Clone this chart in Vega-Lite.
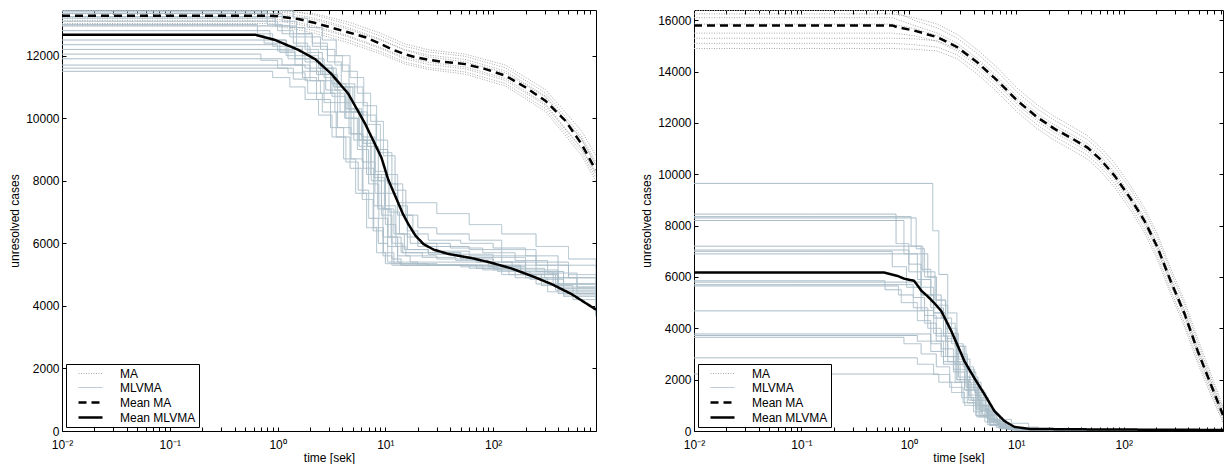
{
"$schema": "https://vega.github.io/schema/vega-lite/v6.json",
"background": "white",
"padding": {"left": 8, "top": 9, "right": 0, "bottom": 0},
"config": {
  "view": {"stroke": "black", "strokeWidth": 1},
  "font": "Liberation Sans",
  "axis": {"domain": false, "grid": false, "labelFont": "Liberation Sans", "labelFontSize": 12, "labelColor": "black", "titleFont": "Liberation Sans", "titleFontSize": 12, "titleFontWeight": "normal", "titleColor": "black", "tickColor": "black", "tickSize": -4, "tickWidth": 1},
  "legend": {"orient": "bottom-left", "offset": 4, "padding": 3, "strokeColor": "black", "fillColor": "white", "symbolType": "M-2,0L2,0", "symbolSize": 144, "symbolOffset": 14, "labelFont": "Liberation Sans", "labelFontSize": 12, "labelColor": "black", "rowPadding": 1, "labelOffset": 22}
},
"data": {"values": [
{"p":"L","s":"Mean MLVMA","r":0,"t":0.01,"v":12670},{"p":"L","s":"Mean MLVMA","r":0,"t":0.62,"v":12670},{"p":"L","s":"Mean MLVMA","r":0,"t":0.95,"v":12500},{"p":"L","s":"Mean MLVMA","r":0,"t":1.55,"v":12190},{"p":"L","s":"Mean MLVMA","r":0,"t":2.23,"v":11890},{"p":"L","s":"Mean MLVMA","r":0,"t":3.15,"v":11420},{"p":"L","s":"Mean MLVMA","r":0,"t":4.53,"v":10780},{"p":"L","s":"Mean MLVMA","r":0,"t":6.5,"v":9820},{"p":"L","s":"Mean MLVMA","r":0,"t":9.2,"v":8740},{"p":"L","s":"Mean MLVMA","r":0,"t":10.6,"v":8050},{"p":"L","s":"Mean MLVMA","r":0,"t":12.4,"v":7500},{"p":"L","s":"Mean MLVMA","r":0,"t":14.5,"v":6950},{"p":"L","s":"Mean MLVMA","r":0,"t":16.3,"v":6620},{"p":"L","s":"Mean MLVMA","r":0,"t":19,"v":6250},{"p":"L","s":"Mean MLVMA","r":0,"t":22.5,"v":5980},{"p":"L","s":"Mean MLVMA","r":0,"t":28,"v":5800},{"p":"L","s":"Mean MLVMA","r":0,"t":38.4,"v":5660},{"p":"L","s":"Mean MLVMA","r":0,"t":62.8,"v":5530},{"p":"L","s":"Mean MLVMA","r":0,"t":96,"v":5380},{"p":"L","s":"Mean MLVMA","r":0,"t":147,"v":5200},{"p":"L","s":"Mean MLVMA","r":0,"t":226,"v":4960},{"p":"L","s":"Mean MLVMA","r":0,"t":347,"v":4700},{"p":"L","s":"Mean MLVMA","r":0,"t":532,"v":4380},{"p":"L","s":"Mean MLVMA","r":0,"t":900,"v":3880},
{"p":"L","s":"Mean MA","r":0,"t":0.01,"v":13280},{"p":"L","s":"Mean MA","r":0,"t":0.8,"v":13280},{"p":"L","s":"Mean MA","r":0,"t":1.0,"v":13260},{"p":"L","s":"Mean MA","r":0,"t":1.2,"v":13220},{"p":"L","s":"Mean MA","r":0,"t":1.55,"v":13170},{"p":"L","s":"Mean MA","r":0,"t":2.2,"v":13050},{"p":"L","s":"Mean MA","r":0,"t":3.15,"v":12900},{"p":"L","s":"Mean MA","r":0,"t":4.5,"v":12750},{"p":"L","s":"Mean MA","r":0,"t":6.5,"v":12590},{"p":"L","s":"Mean MA","r":0,"t":9,"v":12380},{"p":"L","s":"Mean MA","r":0,"t":11.4,"v":12210},{"p":"L","s":"Mean MA","r":0,"t":15,"v":12050},{"p":"L","s":"Mean MA","r":0,"t":19,"v":11950},{"p":"L","s":"Mean MA","r":0,"t":25,"v":11870},{"p":"L","s":"Mean MA","r":0,"t":33,"v":11810},{"p":"L","s":"Mean MA","r":0,"t":55,"v":11730},{"p":"L","s":"Mean MA","r":0,"t":85,"v":11570},{"p":"L","s":"Mean MA","r":0,"t":130,"v":11360},{"p":"L","s":"Mean MA","r":0,"t":199,"v":10990},{"p":"L","s":"Mean MA","r":0,"t":305,"v":10560},{"p":"L","s":"Mean MA","r":0,"t":468,"v":9920},{"p":"L","s":"Mean MA","r":0,"t":659,"v":9180},{"p":"L","s":"Mean MA","r":0,"t":852,"v":8480},{"p":"L","s":"Mean MA","r":0,"t":900,"v":8350},
{"p":"L","s":"MA","r":1,"t":0.01,"v":13430},{"p":"L","s":"MA","r":1,"t":0.8,"v":13430},{"p":"L","s":"MA","r":1,"t":1.2,"v":13370},{"p":"L","s":"MA","r":1,"t":2.2,"v":13200},{"p":"L","s":"MA","r":1,"t":4.5,"v":12900},{"p":"L","s":"MA","r":1,"t":9,"v":12530},{"p":"L","s":"MA","r":1,"t":15,"v":12200},{"p":"L","s":"MA","r":1,"t":25,"v":12020},{"p":"L","s":"MA","r":1,"t":55,"v":11880},{"p":"L","s":"MA","r":1,"t":130,"v":11510},{"p":"L","s":"MA","r":1,"t":305,"v":10710},{"p":"L","s":"MA","r":1,"t":659,"v":9330},{"p":"L","s":"MA","r":1,"t":900,"v":8500},
{"p":"L","s":"MA","r":2,"t":0.01,"v":13130},{"p":"L","s":"MA","r":2,"t":0.8,"v":13130},{"p":"L","s":"MA","r":2,"t":1.2,"v":13070},{"p":"L","s":"MA","r":2,"t":2.2,"v":12900},{"p":"L","s":"MA","r":2,"t":4.5,"v":12600},{"p":"L","s":"MA","r":2,"t":9,"v":12230},{"p":"L","s":"MA","r":2,"t":15,"v":11900},{"p":"L","s":"MA","r":2,"t":25,"v":11720},{"p":"L","s":"MA","r":2,"t":55,"v":11580},{"p":"L","s":"MA","r":2,"t":130,"v":11210},{"p":"L","s":"MA","r":2,"t":305,"v":10410},{"p":"L","s":"MA","r":2,"t":659,"v":9030},{"p":"L","s":"MA","r":2,"t":900,"v":8200},
{"p":"L","s":"MA","r":3,"t":0.01,"v":13450},{"p":"L","s":"MA","r":3,"t":0.8,"v":13450},{"p":"L","s":"MA","r":3,"t":1.2,"v":13440},{"p":"L","s":"MA","r":3,"t":2.2,"v":13300},{"p":"L","s":"MA","r":3,"t":4.5,"v":13000},{"p":"L","s":"MA","r":3,"t":9,"v":12630},{"p":"L","s":"MA","r":3,"t":15,"v":12300},{"p":"L","s":"MA","r":3,"t":25,"v":12120},{"p":"L","s":"MA","r":3,"t":55,"v":11980},{"p":"L","s":"MA","r":3,"t":130,"v":11610},{"p":"L","s":"MA","r":3,"t":305,"v":10810},{"p":"L","s":"MA","r":3,"t":659,"v":9430},{"p":"L","s":"MA","r":3,"t":900,"v":8600},
{"p":"L","s":"MA","r":4,"t":0.01,"v":13030},{"p":"L","s":"MA","r":4,"t":0.8,"v":13030},{"p":"L","s":"MA","r":4,"t":1.2,"v":12970},{"p":"L","s":"MA","r":4,"t":2.2,"v":12800},{"p":"L","s":"MA","r":4,"t":4.5,"v":12500},{"p":"L","s":"MA","r":4,"t":9,"v":12130},{"p":"L","s":"MA","r":4,"t":15,"v":11800},{"p":"L","s":"MA","r":4,"t":25,"v":11620},{"p":"L","s":"MA","r":4,"t":55,"v":11480},{"p":"L","s":"MA","r":4,"t":130,"v":11110},{"p":"L","s":"MA","r":4,"t":305,"v":10310},{"p":"L","s":"MA","r":4,"t":659,"v":8930},{"p":"L","s":"MA","r":4,"t":900,"v":8100},
{"p":"L","s":"MA","r":5,"t":0.01,"v":13340},{"p":"L","s":"MA","r":5,"t":0.8,"v":13340},{"p":"L","s":"MA","r":5,"t":1.2,"v":13300},{"p":"L","s":"MA","r":5,"t":2.2,"v":13150},{"p":"L","s":"MA","r":5,"t":4.5,"v":12850},{"p":"L","s":"MA","r":5,"t":9,"v":12500},{"p":"L","s":"MA","r":5,"t":15,"v":12180},{"p":"L","s":"MA","r":5,"t":25,"v":11960},{"p":"L","s":"MA","r":5,"t":55,"v":11800},{"p":"L","s":"MA","r":5,"t":130,"v":11450},{"p":"L","s":"MA","r":5,"t":305,"v":10680},{"p":"L","s":"MA","r":5,"t":659,"v":9350},{"p":"L","s":"MA","r":5,"t":900,"v":8500},
{"p":"L","s":"MA","r":6,"t":0.01,"v":13200},{"p":"L","s":"MA","r":6,"t":0.8,"v":13200},{"p":"L","s":"MA","r":6,"t":1.2,"v":13130},{"p":"L","s":"MA","r":6,"t":2.2,"v":12950},{"p":"L","s":"MA","r":6,"t":4.5,"v":12640},{"p":"L","s":"MA","r":6,"t":9,"v":12260},{"p":"L","s":"MA","r":6,"t":15,"v":11950},{"p":"L","s":"MA","r":6,"t":25,"v":11790},{"p":"L","s":"MA","r":6,"t":55,"v":11640},{"p":"L","s":"MA","r":6,"t":130,"v":11270},{"p":"L","s":"MA","r":6,"t":305,"v":10460},{"p":"L","s":"MA","r":6,"t":659,"v":9050},{"p":"L","s":"MA","r":6,"t":900,"v":8250},
{"p":"L","s":"MA","r":7,"t":0.01,"v":13450},{"p":"L","s":"MA","r":7,"t":0.8,"v":13450},{"p":"L","s":"MA","r":7,"t":1.2,"v":13420},{"p":"L","s":"MA","r":7,"t":2.2,"v":13340},{"p":"L","s":"MA","r":7,"t":4.5,"v":13080},{"p":"L","s":"MA","r":7,"t":9,"v":12720},{"p":"L","s":"MA","r":7,"t":15,"v":12380},{"p":"L","s":"MA","r":7,"t":25,"v":12190},{"p":"L","s":"MA","r":7,"t":55,"v":12050},{"p":"L","s":"MA","r":7,"t":130,"v":11700},{"p":"L","s":"MA","r":7,"t":305,"v":10920},{"p":"L","s":"MA","r":7,"t":659,"v":9600},{"p":"L","s":"MA","r":7,"t":900,"v":8800},
{"p":"L","s":"MA","r":8,"t":0.01,"v":12960},{"p":"L","s":"MA","r":8,"t":0.8,"v":12960},{"p":"L","s":"MA","r":8,"t":1.2,"v":12900},{"p":"L","s":"MA","r":8,"t":2.2,"v":12720},{"p":"L","s":"MA","r":8,"t":4.5,"v":12420},{"p":"L","s":"MA","r":8,"t":9,"v":12060},{"p":"L","s":"MA","r":8,"t":15,"v":11740},{"p":"L","s":"MA","r":8,"t":25,"v":11560},{"p":"L","s":"MA","r":8,"t":55,"v":11410},{"p":"L","s":"MA","r":8,"t":130,"v":11030},{"p":"L","s":"MA","r":8,"t":305,"v":10220},{"p":"L","s":"MA","r":8,"t":659,"v":8820},{"p":"L","s":"MA","r":8,"t":900,"v":7980},
{"p":"L","s":"MLVMA","r":1,"t":0.01,"v":13400},{"p":"L","s":"MLVMA","r":1,"t":0.8,"v":13000},{"p":"L","s":"MLVMA","r":1,"t":1.1,"v":12700},{"p":"L","s":"MLVMA","r":1,"t":1.5,"v":12300},{"p":"L","s":"MLVMA","r":1,"t":2,"v":11900},{"p":"L","s":"MLVMA","r":1,"t":2.7,"v":11300},{"p":"L","s":"MLVMA","r":1,"t":3.6,"v":10500},{"p":"L","s":"MLVMA","r":1,"t":4.8,"v":9500},{"p":"L","s":"MLVMA","r":1,"t":6.2,"v":8400},{"p":"L","s":"MLVMA","r":1,"t":7.8,"v":7200},{"p":"L","s":"MLVMA","r":1,"t":9.5,"v":6200},{"p":"L","s":"MLVMA","r":1,"t":11.5,"v":5500},{"p":"L","s":"MLVMA","r":1,"t":14,"v":5300},{"p":"L","s":"MLVMA","r":1,"t":60,"v":5200},{"p":"L","s":"MLVMA","r":1,"t":120,"v":5000},{"p":"L","s":"MLVMA","r":1,"t":250,"v":4700},{"p":"L","s":"MLVMA","r":1,"t":450,"v":4300},{"p":"L","s":"MLVMA","r":1,"t":900,"v":3700},
{"p":"L","s":"MLVMA","r":2,"t":0.01,"v":13250},{"p":"L","s":"MLVMA","r":2,"t":1.3,"v":12900},{"p":"L","s":"MLVMA","r":2,"t":1.8,"v":12600},{"p":"L","s":"MLVMA","r":2,"t":2.5,"v":12200},{"p":"L","s":"MLVMA","r":2,"t":3.4,"v":11700},{"p":"L","s":"MLVMA","r":2,"t":4.6,"v":11000},{"p":"L","s":"MLVMA","r":2,"t":6.2,"v":10100},{"p":"L","s":"MLVMA","r":2,"t":8.2,"v":9000},{"p":"L","s":"MLVMA","r":2,"t":10.5,"v":7900},{"p":"L","s":"MLVMA","r":2,"t":13,"v":6900},{"p":"L","s":"MLVMA","r":2,"t":16,"v":6200},{"p":"L","s":"MLVMA","r":2,"t":20,"v":5900},{"p":"L","s":"MLVMA","r":2,"t":30,"v":5750},{"p":"L","s":"MLVMA","r":2,"t":60,"v":5600},{"p":"L","s":"MLVMA","r":2,"t":120,"v":5400},{"p":"L","s":"MLVMA","r":2,"t":250,"v":5100},{"p":"L","s":"MLVMA","r":2,"t":450,"v":4700},{"p":"L","s":"MLVMA","r":2,"t":900,"v":4100},
{"p":"L","s":"MLVMA","r":3,"t":0.01,"v":13100},{"p":"L","s":"MLVMA","r":3,"t":1,"v":12800},{"p":"L","s":"MLVMA","r":3,"t":1.4,"v":12400},{"p":"L","s":"MLVMA","r":3,"t":1.9,"v":12100},{"p":"L","s":"MLVMA","r":3,"t":2.6,"v":11600},{"p":"L","s":"MLVMA","r":3,"t":3.5,"v":11000},{"p":"L","s":"MLVMA","r":3,"t":4.7,"v":10200},{"p":"L","s":"MLVMA","r":3,"t":6.2,"v":9200},{"p":"L","s":"MLVMA","r":3,"t":7.9,"v":8100},{"p":"L","s":"MLVMA","r":3,"t":9.8,"v":7100},{"p":"L","s":"MLVMA","r":3,"t":12,"v":6300},{"p":"L","s":"MLVMA","r":3,"t":15,"v":5800},{"p":"L","s":"MLVMA","r":3,"t":25,"v":5650},{"p":"L","s":"MLVMA","r":3,"t":50,"v":5500},{"p":"L","s":"MLVMA","r":3,"t":100,"v":5300},{"p":"L","s":"MLVMA","r":3,"t":200,"v":5050},{"p":"L","s":"MLVMA","r":3,"t":400,"v":4600},{"p":"L","s":"MLVMA","r":3,"t":900,"v":3900},
{"p":"L","s":"MLVMA","r":4,"t":0.01,"v":12950},{"p":"L","s":"MLVMA","r":4,"t":1.5,"v":12700},{"p":"L","s":"MLVMA","r":4,"t":2.1,"v":12400},{"p":"L","s":"MLVMA","r":4,"t":2.9,"v":12000},{"p":"L","s":"MLVMA","r":4,"t":4,"v":11500},{"p":"L","s":"MLVMA","r":4,"t":5.5,"v":10800},{"p":"L","s":"MLVMA","r":4,"t":7.3,"v":9900},{"p":"L","s":"MLVMA","r":4,"t":9.6,"v":8800},{"p":"L","s":"MLVMA","r":4,"t":12.3,"v":7700},{"p":"L","s":"MLVMA","r":4,"t":15.5,"v":6900},{"p":"L","s":"MLVMA","r":4,"t":20,"v":6500},{"p":"L","s":"MLVMA","r":4,"t":30,"v":6300},{"p":"L","s":"MLVMA","r":4,"t":60,"v":6100},{"p":"L","s":"MLVMA","r":4,"t":120,"v":5800},{"p":"L","s":"MLVMA","r":4,"t":250,"v":5400},{"p":"L","s":"MLVMA","r":4,"t":500,"v":5000},{"p":"L","s":"MLVMA","r":4,"t":900,"v":4600},
{"p":"L","s":"MLVMA","r":5,"t":0.01,"v":12800},{"p":"L","s":"MLVMA","r":5,"t":0.85,"v":12500},{"p":"L","s":"MLVMA","r":5,"t":1.2,"v":12200},{"p":"L","s":"MLVMA","r":5,"t":1.7,"v":11900},{"p":"L","s":"MLVMA","r":5,"t":2.3,"v":11400},{"p":"L","s":"MLVMA","r":5,"t":3.1,"v":10800},{"p":"L","s":"MLVMA","r":5,"t":4.2,"v":10000},{"p":"L","s":"MLVMA","r":5,"t":5.5,"v":9000},{"p":"L","s":"MLVMA","r":5,"t":7,"v":7900},{"p":"L","s":"MLVMA","r":5,"t":8.7,"v":6800},{"p":"L","s":"MLVMA","r":5,"t":10.5,"v":5900},{"p":"L","s":"MLVMA","r":5,"t":13,"v":5400},{"p":"L","s":"MLVMA","r":5,"t":20,"v":5300},{"p":"L","s":"MLVMA","r":5,"t":90,"v":5250},{"p":"L","s":"MLVMA","r":5,"t":180,"v":5000},{"p":"L","s":"MLVMA","r":5,"t":380,"v":4500},{"p":"L","s":"MLVMA","r":5,"t":900,"v":3800},
{"p":"L","s":"MLVMA","r":6,"t":0.01,"v":12500},{"p":"L","s":"MLVMA","r":6,"t":1.2,"v":12300},{"p":"L","s":"MLVMA","r":6,"t":1.7,"v":12000},{"p":"L","s":"MLVMA","r":6,"t":2.4,"v":11600},{"p":"L","s":"MLVMA","r":6,"t":3.3,"v":11000},{"p":"L","s":"MLVMA","r":6,"t":4.5,"v":10300},{"p":"L","s":"MLVMA","r":6,"t":6,"v":9400},{"p":"L","s":"MLVMA","r":6,"t":8,"v":8300},{"p":"L","s":"MLVMA","r":6,"t":10,"v":7600},{"p":"L","s":"MLVMA","r":6,"t":13,"v":7300},{"p":"L","s":"MLVMA","r":6,"t":30,"v":6950},{"p":"L","s":"MLVMA","r":6,"t":60,"v":6600},{"p":"L","s":"MLVMA","r":6,"t":120,"v":6300},{"p":"L","s":"MLVMA","r":6,"t":250,"v":5900},{"p":"L","s":"MLVMA","r":6,"t":500,"v":5500},{"p":"L","s":"MLVMA","r":6,"t":900,"v":5200},
{"p":"L","s":"MLVMA","r":7,"t":0.01,"v":12200},{"p":"L","s":"MLVMA","r":7,"t":1.2,"v":12000},{"p":"L","s":"MLVMA","r":7,"t":1.8,"v":11800},{"p":"L","s":"MLVMA","r":7,"t":2.5,"v":11400},{"p":"L","s":"MLVMA","r":7,"t":3.4,"v":10900},{"p":"L","s":"MLVMA","r":7,"t":4.6,"v":10200},{"p":"L","s":"MLVMA","r":7,"t":6.1,"v":9300},{"p":"L","s":"MLVMA","r":7,"t":8,"v":8200},{"p":"L","s":"MLVMA","r":7,"t":10,"v":7200},{"p":"L","s":"MLVMA","r":7,"t":12.5,"v":6300},{"p":"L","s":"MLVMA","r":7,"t":16,"v":5800},{"p":"L","s":"MLVMA","r":7,"t":25,"v":5700},{"p":"L","s":"MLVMA","r":7,"t":50,"v":5550},{"p":"L","s":"MLVMA","r":7,"t":100,"v":5400},{"p":"L","s":"MLVMA","r":7,"t":200,"v":5150},{"p":"L","s":"MLVMA","r":7,"t":400,"v":4700},{"p":"L","s":"MLVMA","r":7,"t":900,"v":4000},
{"p":"L","s":"MLVMA","r":8,"t":0.01,"v":11900},{"p":"L","s":"MLVMA","r":8,"t":1.1,"v":11700},{"p":"L","s":"MLVMA","r":8,"t":1.7,"v":11500},{"p":"L","s":"MLVMA","r":8,"t":2.4,"v":11200},{"p":"L","s":"MLVMA","r":8,"t":3.2,"v":10700},{"p":"L","s":"MLVMA","r":8,"t":4.3,"v":10000},{"p":"L","s":"MLVMA","r":8,"t":5.7,"v":9100},{"p":"L","s":"MLVMA","r":8,"t":7.4,"v":8000},{"p":"L","s":"MLVMA","r":8,"t":9.2,"v":6900},{"p":"L","s":"MLVMA","r":8,"t":11.5,"v":6000},{"p":"L","s":"MLVMA","r":8,"t":14.5,"v":5700},{"p":"L","s":"MLVMA","r":8,"t":50,"v":5650},{"p":"L","s":"MLVMA","r":8,"t":100,"v":5550},{"p":"L","s":"MLVMA","r":8,"t":200,"v":5300},{"p":"L","s":"MLVMA","r":8,"t":400,"v":4900},{"p":"L","s":"MLVMA","r":8,"t":900,"v":4300},
{"p":"L","s":"MLVMA","r":9,"t":0.01,"v":11700},{"p":"L","s":"MLVMA","r":9,"t":1.8,"v":11600},{"p":"L","s":"MLVMA","r":9,"t":2.6,"v":11400},{"p":"L","s":"MLVMA","r":9,"t":3.6,"v":11000},{"p":"L","s":"MLVMA","r":9,"t":5,"v":10500},{"p":"L","s":"MLVMA","r":9,"t":6.8,"v":9800},{"p":"L","s":"MLVMA","r":9,"t":9,"v":8900},{"p":"L","s":"MLVMA","r":9,"t":11.5,"v":7900},{"p":"L","s":"MLVMA","r":9,"t":14.5,"v":6900},{"p":"L","s":"MLVMA","r":9,"t":18,"v":6300},{"p":"L","s":"MLVMA","r":9,"t":25,"v":6100},{"p":"L","s":"MLVMA","r":9,"t":50,"v":6000},{"p":"L","s":"MLVMA","r":9,"t":100,"v":5850},{"p":"L","s":"MLVMA","r":9,"t":200,"v":5600},{"p":"L","s":"MLVMA","r":9,"t":400,"v":5300},{"p":"L","s":"MLVMA","r":9,"t":900,"v":4900},
{"p":"L","s":"MLVMA","r":10,"t":0.01,"v":11500},{"p":"L","s":"MLVMA","r":10,"t":0.9,"v":11300},{"p":"L","s":"MLVMA","r":10,"t":1.3,"v":11000},{"p":"L","s":"MLVMA","r":10,"t":1.8,"v":10600},{"p":"L","s":"MLVMA","r":10,"t":2.4,"v":10100},{"p":"L","s":"MLVMA","r":10,"t":3.2,"v":9400},{"p":"L","s":"MLVMA","r":10,"t":4.3,"v":8600},{"p":"L","s":"MLVMA","r":10,"t":5.6,"v":7700},{"p":"L","s":"MLVMA","r":10,"t":7,"v":6800},{"p":"L","s":"MLVMA","r":10,"t":8.6,"v":6000},{"p":"L","s":"MLVMA","r":10,"t":10.5,"v":5400},{"p":"L","s":"MLVMA","r":10,"t":14,"v":5300},{"p":"L","s":"MLVMA","r":10,"t":80,"v":5150},{"p":"L","s":"MLVMA","r":10,"t":160,"v":4900},{"p":"L","s":"MLVMA","r":10,"t":320,"v":4450},{"p":"L","s":"MLVMA","r":10,"t":900,"v":3650},
{"p":"L","s":"MLVMA","r":11,"t":0.01,"v":13350},{"p":"L","s":"MLVMA","r":11,"t":1.1,"v":13100},{"p":"L","s":"MLVMA","r":11,"t":1.5,"v":12700},{"p":"L","s":"MLVMA","r":11,"t":2.1,"v":12300},{"p":"L","s":"MLVMA","r":11,"t":2.9,"v":11800},{"p":"L","s":"MLVMA","r":11,"t":3.9,"v":11100},{"p":"L","s":"MLVMA","r":11,"t":5.2,"v":10200},{"p":"L","s":"MLVMA","r":11,"t":6.8,"v":9100},{"p":"L","s":"MLVMA","r":11,"t":8.6,"v":8000},{"p":"L","s":"MLVMA","r":11,"t":10.8,"v":7000},{"p":"L","s":"MLVMA","r":11,"t":13.5,"v":6300},{"p":"L","s":"MLVMA","r":11,"t":17,"v":6000},{"p":"L","s":"MLVMA","r":11,"t":30,"v":5900},{"p":"L","s":"MLVMA","r":11,"t":60,"v":5800},{"p":"L","s":"MLVMA","r":11,"t":120,"v":5600},{"p":"L","s":"MLVMA","r":11,"t":250,"v":5300},{"p":"L","s":"MLVMA","r":11,"t":500,"v":4900},{"p":"L","s":"MLVMA","r":11,"t":900,"v":4500},
{"p":"L","s":"MLVMA","r":12,"t":0.01,"v":12650},{"p":"L","s":"MLVMA","r":12,"t":0.75,"v":12400},{"p":"L","s":"MLVMA","r":12,"t":1.05,"v":12100},{"p":"L","s":"MLVMA","r":12,"t":1.45,"v":11700},{"p":"L","s":"MLVMA","r":12,"t":2,"v":11200},{"p":"L","s":"MLVMA","r":12,"t":2.7,"v":10500},{"p":"L","s":"MLVMA","r":12,"t":3.6,"v":9700},{"p":"L","s":"MLVMA","r":12,"t":4.8,"v":8700},{"p":"L","s":"MLVMA","r":12,"t":6.2,"v":7600},{"p":"L","s":"MLVMA","r":12,"t":7.8,"v":6500},{"p":"L","s":"MLVMA","r":12,"t":9.6,"v":5700},{"p":"L","s":"MLVMA","r":12,"t":12,"v":5350},{"p":"L","s":"MLVMA","r":12,"t":25,"v":5300},{"p":"L","s":"MLVMA","r":12,"t":100,"v":5150},{"p":"L","s":"MLVMA","r":12,"t":200,"v":4900},{"p":"L","s":"MLVMA","r":12,"t":400,"v":4400},{"p":"L","s":"MLVMA","r":12,"t":900,"v":3750},
{"p":"L","s":"MLVMA","r":13,"t":0.01,"v":13450},{"p":"L","s":"MLVMA","r":13,"t":1.4,"v":13200},{"p":"L","s":"MLVMA","r":13,"t":1.9,"v":12900},{"p":"L","s":"MLVMA","r":13,"t":2.6,"v":12500},{"p":"L","s":"MLVMA","r":13,"t":3.5,"v":12000},{"p":"L","s":"MLVMA","r":13,"t":4.7,"v":11300},{"p":"L","s":"MLVMA","r":13,"t":6.3,"v":10400},{"p":"L","s":"MLVMA","r":13,"t":8.3,"v":9300},{"p":"L","s":"MLVMA","r":13,"t":10.5,"v":8200},{"p":"L","s":"MLVMA","r":13,"t":13,"v":7200},{"p":"L","s":"MLVMA","r":13,"t":16,"v":6400},{"p":"L","s":"MLVMA","r":13,"t":20,"v":6000},{"p":"L","s":"MLVMA","r":13,"t":40,"v":5850},{"p":"L","s":"MLVMA","r":13,"t":80,"v":5700},{"p":"L","s":"MLVMA","r":13,"t":160,"v":5450},{"p":"L","s":"MLVMA","r":13,"t":320,"v":5050},{"p":"L","s":"MLVMA","r":13,"t":600,"v":4600},{"p":"L","s":"MLVMA","r":13,"t":900,"v":4300},
{"p":"L","s":"MLVMA","r":14,"t":0.01,"v":13000},{"p":"L","s":"MLVMA","r":14,"t":0.65,"v":12700},{"p":"L","s":"MLVMA","r":14,"t":0.9,"v":12300},{"p":"L","s":"MLVMA","r":14,"t":1.25,"v":11900},{"p":"L","s":"MLVMA","r":14,"t":1.7,"v":11300},{"p":"L","s":"MLVMA","r":14,"t":2.3,"v":10600},{"p":"L","s":"MLVMA","r":14,"t":3.1,"v":9700},{"p":"L","s":"MLVMA","r":14,"t":4.1,"v":8700},{"p":"L","s":"MLVMA","r":14,"t":5.3,"v":7600},{"p":"L","s":"MLVMA","r":14,"t":6.7,"v":6500},{"p":"L","s":"MLVMA","r":14,"t":8.3,"v":5700},{"p":"L","s":"MLVMA","r":14,"t":10,"v":5350},{"p":"L","s":"MLVMA","r":14,"t":30,"v":5300},{"p":"L","s":"MLVMA","r":14,"t":70,"v":5200},{"p":"L","s":"MLVMA","r":14,"t":140,"v":5000},{"p":"L","s":"MLVMA","r":14,"t":280,"v":4650},{"p":"L","s":"MLVMA","r":14,"t":550,"v":4200},{"p":"L","s":"MLVMA","r":14,"t":900,"v":3800},
{"p":"L","s":"MLVMA","r":15,"t":0.01,"v":12350},{"p":"L","s":"MLVMA","r":15,"t":1,"v":12150},{"p":"L","s":"MLVMA","r":15,"t":1.45,"v":11900},{"p":"L","s":"MLVMA","r":15,"t":2,"v":11500},{"p":"L","s":"MLVMA","r":15,"t":2.8,"v":10900},{"p":"L","s":"MLVMA","r":15,"t":3.8,"v":10200},{"p":"L","s":"MLVMA","r":15,"t":5.1,"v":9300},{"p":"L","s":"MLVMA","r":15,"t":6.7,"v":8200},{"p":"L","s":"MLVMA","r":15,"t":8.5,"v":7100},{"p":"L","s":"MLVMA","r":15,"t":10.6,"v":6200},{"p":"L","s":"MLVMA","r":15,"t":13,"v":5600},{"p":"L","s":"MLVMA","r":15,"t":17,"v":5400},{"p":"L","s":"MLVMA","r":15,"t":100,"v":5250},{"p":"L","s":"MLVMA","r":15,"t":200,"v":5000},{"p":"L","s":"MLVMA","r":15,"t":400,"v":4550},{"p":"L","s":"MLVMA","r":15,"t":900,"v":3850},
{"p":"L","s":"MLVMA","r":16,"t":0.01,"v":12050},{"p":"L","s":"MLVMA","r":16,"t":0.7,"v":11850},{"p":"L","s":"MLVMA","r":16,"t":1,"v":11600},{"p":"L","s":"MLVMA","r":16,"t":1.4,"v":11250},{"p":"L","s":"MLVMA","r":16,"t":1.9,"v":10800},{"p":"L","s":"MLVMA","r":16,"t":2.6,"v":10200},{"p":"L","s":"MLVMA","r":16,"t":3.5,"v":9400},{"p":"L","s":"MLVMA","r":16,"t":4.7,"v":8400},{"p":"L","s":"MLVMA","r":16,"t":6.1,"v":7400},{"p":"L","s":"MLVMA","r":16,"t":7.7,"v":6400},{"p":"L","s":"MLVMA","r":16,"t":9.5,"v":5600},{"p":"L","s":"MLVMA","r":16,"t":11.5,"v":5300},{"p":"L","s":"MLVMA","r":16,"t":50,"v":5250},{"p":"L","s":"MLVMA","r":16,"t":110,"v":5100},{"p":"L","s":"MLVMA","r":16,"t":220,"v":4850},{"p":"L","s":"MLVMA","r":16,"t":450,"v":4350},{"p":"L","s":"MLVMA","r":16,"t":900,"v":3700},
{"p":"L","s":"MLVMA","r":17,"t":0.01,"v":11600},{"p":"L","s":"MLVMA","r":17,"t":1.25,"v":11450},{"p":"L","s":"MLVMA","r":17,"t":1.8,"v":11200},{"p":"L","s":"MLVMA","r":17,"t":2.5,"v":10800},{"p":"L","s":"MLVMA","r":17,"t":3.4,"v":10200},{"p":"L","s":"MLVMA","r":17,"t":4.6,"v":9500},{"p":"L","s":"MLVMA","r":17,"t":6.1,"v":8600},{"p":"L","s":"MLVMA","r":17,"t":8,"v":7600},{"p":"L","s":"MLVMA","r":17,"t":10,"v":6600},{"p":"L","s":"MLVMA","r":17,"t":12.5,"v":5900},{"p":"L","s":"MLVMA","r":17,"t":15.5,"v":5600},{"p":"L","s":"MLVMA","r":17,"t":30,"v":5500},{"p":"L","s":"MLVMA","r":17,"t":70,"v":5400},{"p":"L","s":"MLVMA","r":17,"t":150,"v":5200},{"p":"L","s":"MLVMA","r":17,"t":300,"v":4900},{"p":"L","s":"MLVMA","r":17,"t":600,"v":4400},{"p":"L","s":"MLVMA","r":17,"t":900,"v":4100},
{"p":"L","s":"MLVMA","r":18,"t":0.01,"v":13200},{"p":"L","s":"MLVMA","r":18,"t":0.95,"v":12950},{"p":"L","s":"MLVMA","r":18,"t":1.3,"v":12600},{"p":"L","s":"MLVMA","r":18,"t":1.8,"v":12200},{"p":"L","s":"MLVMA","r":18,"t":2.4,"v":11700},{"p":"L","s":"MLVMA","r":18,"t":3.2,"v":11100},{"p":"L","s":"MLVMA","r":18,"t":4.3,"v":10300},{"p":"L","s":"MLVMA","r":18,"t":5.7,"v":9300},{"p":"L","s":"MLVMA","r":18,"t":7.3,"v":8200},{"p":"L","s":"MLVMA","r":18,"t":9.2,"v":7100},{"p":"L","s":"MLVMA","r":18,"t":11.3,"v":6200},{"p":"L","s":"MLVMA","r":18,"t":14,"v":5700},{"p":"L","s":"MLVMA","r":18,"t":22,"v":5550},{"p":"L","s":"MLVMA","r":18,"t":45,"v":5450},{"p":"L","s":"MLVMA","r":18,"t":90,"v":5300},{"p":"L","s":"MLVMA","r":18,"t":180,"v":5100},{"p":"L","s":"MLVMA","r":18,"t":360,"v":4700},{"p":"L","s":"MLVMA","r":18,"t":900,"v":3950},
{"p":"R","s":"Mean MA","r":0,"t":0.01,"v":15800},{"p":"R","s":"Mean MA","r":0,"t":0.7,"v":15800},{"p":"R","s":"Mean MA","r":0,"t":0.78,"v":15730},{"p":"R","s":"Mean MA","r":0,"t":1.12,"v":15600},{"p":"R","s":"Mean MA","r":0,"t":1.84,"v":15340},{"p":"R","s":"Mean MA","r":0,"t":2.83,"v":14950},{"p":"R","s":"Mean MA","r":0,"t":4.34,"v":14360},{"p":"R","s":"Mean MA","r":0,"t":6.67,"v":13650},{"p":"R","s":"Mean MA","r":0,"t":10.2,"v":12870},{"p":"R","s":"Mean MA","r":0,"t":15.7,"v":12220},{"p":"R","s":"Mean MA","r":0,"t":22.7,"v":11770},{"p":"R","s":"Mean MA","r":0,"t":31.9,"v":11430},{"p":"R","s":"Mean MA","r":0,"t":46,"v":11040},{"p":"R","s":"Mean MA","r":0,"t":60,"v":10600},{"p":"R","s":"Mean MA","r":0,"t":82,"v":9950},{"p":"R","s":"Mean MA","r":0,"t":116,"v":9050},{"p":"R","s":"Mean MA","r":0,"t":156,"v":8190},{"p":"R","s":"Mean MA","r":0,"t":207,"v":7140},{"p":"R","s":"Mean MA","r":0,"t":273,"v":5850},{"p":"R","s":"Mean MA","r":0,"t":369,"v":4560},{"p":"R","s":"Mean MA","r":0,"t":488,"v":3120},{"p":"R","s":"Mean MA","r":0,"t":645,"v":1830},{"p":"R","s":"Mean MA","r":0,"t":840,"v":620},
{"p":"R","s":"Mean MLVMA","r":0,"t":0.01,"v":6170},{"p":"R","s":"Mean MLVMA","r":0,"t":0.59,"v":6170},{"p":"R","s":"Mean MLVMA","r":0,"t":0.78,"v":6045},{"p":"R","s":"Mean MLVMA","r":0,"t":0.91,"v":5930},{"p":"R","s":"Mean MLVMA","r":0,"t":1.12,"v":5850},{"p":"R","s":"Mean MLVMA","r":0,"t":1.31,"v":5460},{"p":"R","s":"Mean MLVMA","r":0,"t":1.48,"v":5265},{"p":"R","s":"Mean MLVMA","r":0,"t":1.72,"v":4990},{"p":"R","s":"Mean MLVMA","r":0,"t":2.0,"v":4680},{"p":"R","s":"Mean MLVMA","r":0,"t":2.48,"v":3900},{"p":"R","s":"Mean MLVMA","r":0,"t":3.08,"v":3000},{"p":"R","s":"Mean MLVMA","r":0,"t":3.28,"v":2730},{"p":"R","s":"Mean MLVMA","r":0,"t":4.06,"v":2070},{"p":"R","s":"Mean MLVMA","r":0,"t":5.04,"v":1440},{"p":"R","s":"Mean MLVMA","r":0,"t":6.25,"v":780},{"p":"R","s":"Mean MLVMA","r":0,"t":7.75,"v":390},{"p":"R","s":"Mean MLVMA","r":0,"t":9.6,"v":160},{"p":"R","s":"Mean MLVMA","r":0,"t":13.5,"v":80},{"p":"R","s":"Mean MLVMA","r":0,"t":57,"v":60},{"p":"R","s":"Mean MLVMA","r":0,"t":840,"v":40},
{"p":"R","s":"MA","r":1,"t":0.01,"v":16380},{"p":"R","s":"MA","r":1,"t":0.7,"v":16380},{"p":"R","s":"MA","r":1,"t":1.12,"v":16000},{"p":"R","s":"MA","r":1,"t":1.84,"v":15700},{"p":"R","s":"MA","r":1,"t":2.83,"v":15300},{"p":"R","s":"MA","r":1,"t":4.34,"v":14700},{"p":"R","s":"MA","r":1,"t":6.67,"v":14000},{"p":"R","s":"MA","r":1,"t":10.2,"v":13200},{"p":"R","s":"MA","r":1,"t":15.7,"v":12550},{"p":"R","s":"MA","r":1,"t":22.7,"v":12100},{"p":"R","s":"MA","r":1,"t":31.9,"v":11750},{"p":"R","s":"MA","r":1,"t":46,"v":11350},{"p":"R","s":"MA","r":1,"t":60,"v":10920},{"p":"R","s":"MA","r":1,"t":82,"v":10280},{"p":"R","s":"MA","r":1,"t":116,"v":9400},{"p":"R","s":"MA","r":1,"t":156,"v":8550},{"p":"R","s":"MA","r":1,"t":207,"v":7500},{"p":"R","s":"MA","r":1,"t":273,"v":6200},{"p":"R","s":"MA","r":1,"t":369,"v":4900},{"p":"R","s":"MA","r":1,"t":488,"v":3450},{"p":"R","s":"MA","r":1,"t":645,"v":2100},{"p":"R","s":"MA","r":1,"t":840,"v":850},
{"p":"R","s":"MA","r":2,"t":0.01,"v":15100},{"p":"R","s":"MA","r":2,"t":0.7,"v":15100},{"p":"R","s":"MA","r":2,"t":1.12,"v":15050},{"p":"R","s":"MA","r":2,"t":1.84,"v":14950},{"p":"R","s":"MA","r":2,"t":2.83,"v":14650},{"p":"R","s":"MA","r":2,"t":4.34,"v":14060},{"p":"R","s":"MA","r":2,"t":6.67,"v":13350},{"p":"R","s":"MA","r":2,"t":10.2,"v":12570},{"p":"R","s":"MA","r":2,"t":15.7,"v":11920},{"p":"R","s":"MA","r":2,"t":22.7,"v":11470},{"p":"R","s":"MA","r":2,"t":31.9,"v":11130},{"p":"R","s":"MA","r":2,"t":46,"v":10740},{"p":"R","s":"MA","r":2,"t":60,"v":10300},{"p":"R","s":"MA","r":2,"t":82,"v":9650},{"p":"R","s":"MA","r":2,"t":116,"v":8750},{"p":"R","s":"MA","r":2,"t":156,"v":7870},{"p":"R","s":"MA","r":2,"t":207,"v":6800},{"p":"R","s":"MA","r":2,"t":273,"v":5500},{"p":"R","s":"MA","r":2,"t":369,"v":4200},{"p":"R","s":"MA","r":2,"t":488,"v":2800},{"p":"R","s":"MA","r":2,"t":645,"v":1550},{"p":"R","s":"MA","r":2,"t":840,"v":420},
{"p":"R","s":"MA","r":3,"t":0.01,"v":16100},{"p":"R","s":"MA","r":3,"t":0.7,"v":16100},{"p":"R","s":"MA","r":3,"t":1.12,"v":15800},{"p":"R","s":"MA","r":3,"t":1.84,"v":15500},{"p":"R","s":"MA","r":3,"t":2.83,"v":15100},{"p":"R","s":"MA","r":3,"t":4.34,"v":14510},{"p":"R","s":"MA","r":3,"t":6.67,"v":13800},{"p":"R","s":"MA","r":3,"t":10.2,"v":13020},{"p":"R","s":"MA","r":3,"t":15.7,"v":12370},{"p":"R","s":"MA","r":3,"t":22.7,"v":11920},{"p":"R","s":"MA","r":3,"t":31.9,"v":11580},{"p":"R","s":"MA","r":3,"t":46,"v":11190},{"p":"R","s":"MA","r":3,"t":60,"v":10750},{"p":"R","s":"MA","r":3,"t":82,"v":10100},{"p":"R","s":"MA","r":3,"t":116,"v":9200},{"p":"R","s":"MA","r":3,"t":156,"v":8340},{"p":"R","s":"MA","r":3,"t":207,"v":7290},{"p":"R","s":"MA","r":3,"t":273,"v":6000},{"p":"R","s":"MA","r":3,"t":369,"v":4710},{"p":"R","s":"MA","r":3,"t":488,"v":3270},{"p":"R","s":"MA","r":3,"t":645,"v":1980},{"p":"R","s":"MA","r":3,"t":840,"v":750},
{"p":"R","s":"MA","r":4,"t":0.01,"v":15500},{"p":"R","s":"MA","r":4,"t":0.7,"v":15500},{"p":"R","s":"MA","r":4,"t":1.12,"v":15400},{"p":"R","s":"MA","r":4,"t":1.84,"v":15180},{"p":"R","s":"MA","r":4,"t":2.83,"v":14800},{"p":"R","s":"MA","r":4,"t":4.34,"v":14210},{"p":"R","s":"MA","r":4,"t":6.67,"v":13500},{"p":"R","s":"MA","r":4,"t":10.2,"v":12720},{"p":"R","s":"MA","r":4,"t":15.7,"v":12070},{"p":"R","s":"MA","r":4,"t":22.7,"v":11620},{"p":"R","s":"MA","r":4,"t":31.9,"v":11280},{"p":"R","s":"MA","r":4,"t":46,"v":10890},{"p":"R","s":"MA","r":4,"t":60,"v":10450},{"p":"R","s":"MA","r":4,"t":82,"v":9800},{"p":"R","s":"MA","r":4,"t":116,"v":8900},{"p":"R","s":"MA","r":4,"t":156,"v":8040},{"p":"R","s":"MA","r":4,"t":207,"v":6990},{"p":"R","s":"MA","r":4,"t":273,"v":5700},{"p":"R","s":"MA","r":4,"t":369,"v":4410},{"p":"R","s":"MA","r":4,"t":488,"v":2970},{"p":"R","s":"MA","r":4,"t":645,"v":1690},{"p":"R","s":"MA","r":4,"t":840,"v":510},
{"p":"R","s":"MA","r":5,"t":0.01,"v":16250},{"p":"R","s":"MA","r":5,"t":0.7,"v":16250},{"p":"R","s":"MA","r":5,"t":1.12,"v":16100},{"p":"R","s":"MA","r":5,"t":1.84,"v":15850},{"p":"R","s":"MA","r":5,"t":2.83,"v":15450},{"p":"R","s":"MA","r":5,"t":4.34,"v":14850},{"p":"R","s":"MA","r":5,"t":6.67,"v":14150},{"p":"R","s":"MA","r":5,"t":10.2,"v":13350},{"p":"R","s":"MA","r":5,"t":15.7,"v":12700},{"p":"R","s":"MA","r":5,"t":22.7,"v":12250},{"p":"R","s":"MA","r":5,"t":31.9,"v":11900},{"p":"R","s":"MA","r":5,"t":46,"v":11500},{"p":"R","s":"MA","r":5,"t":60,"v":11070},{"p":"R","s":"MA","r":5,"t":82,"v":10450},{"p":"R","s":"MA","r":5,"t":116,"v":9550},{"p":"R","s":"MA","r":5,"t":156,"v":8700},{"p":"R","s":"MA","r":5,"t":207,"v":7650},{"p":"R","s":"MA","r":5,"t":273,"v":6350},{"p":"R","s":"MA","r":5,"t":369,"v":5050},{"p":"R","s":"MA","r":5,"t":488,"v":3600},{"p":"R","s":"MA","r":5,"t":645,"v":2250},{"p":"R","s":"MA","r":5,"t":840,"v":950},
{"p":"R","s":"MA","r":6,"t":0.01,"v":14900},{"p":"R","s":"MA","r":6,"t":0.7,"v":14900},{"p":"R","s":"MA","r":6,"t":1.12,"v":14870},{"p":"R","s":"MA","r":6,"t":1.84,"v":14800},{"p":"R","s":"MA","r":6,"t":2.83,"v":14500},{"p":"R","s":"MA","r":6,"t":4.34,"v":13900},{"p":"R","s":"MA","r":6,"t":6.67,"v":13200},{"p":"R","s":"MA","r":6,"t":10.2,"v":12420},{"p":"R","s":"MA","r":6,"t":15.7,"v":11770},{"p":"R","s":"MA","r":6,"t":22.7,"v":11320},{"p":"R","s":"MA","r":6,"t":31.9,"v":10980},{"p":"R","s":"MA","r":6,"t":46,"v":10590},{"p":"R","s":"MA","r":6,"t":60,"v":10150},{"p":"R","s":"MA","r":6,"t":82,"v":9500},{"p":"R","s":"MA","r":6,"t":116,"v":8600},{"p":"R","s":"MA","r":6,"t":156,"v":7720},{"p":"R","s":"MA","r":6,"t":207,"v":6650},{"p":"R","s":"MA","r":6,"t":273,"v":5350},{"p":"R","s":"MA","r":6,"t":369,"v":4050},{"p":"R","s":"MA","r":6,"t":488,"v":2650},{"p":"R","s":"MA","r":6,"t":645,"v":1420},{"p":"R","s":"MA","r":6,"t":840,"v":330},
{"p":"R","s":"MA","r":7,"t":0.01,"v":15850},{"p":"R","s":"MA","r":7,"t":0.7,"v":15850},{"p":"R","s":"MA","r":7,"t":1.12,"v":15680},{"p":"R","s":"MA","r":7,"t":1.84,"v":15400},{"p":"R","s":"MA","r":7,"t":2.83,"v":15000},{"p":"R","s":"MA","r":7,"t":4.34,"v":14420},{"p":"R","s":"MA","r":7,"t":6.67,"v":13700},{"p":"R","s":"MA","r":7,"t":10.2,"v":12920},{"p":"R","s":"MA","r":7,"t":15.7,"v":12270},{"p":"R","s":"MA","r":7,"t":22.7,"v":11820},{"p":"R","s":"MA","r":7,"t":31.9,"v":11480},{"p":"R","s":"MA","r":7,"t":46,"v":11090},{"p":"R","s":"MA","r":7,"t":60,"v":10650},{"p":"R","s":"MA","r":7,"t":82,"v":10000},{"p":"R","s":"MA","r":7,"t":116,"v":9100},{"p":"R","s":"MA","r":7,"t":156,"v":8240},{"p":"R","s":"MA","r":7,"t":207,"v":7190},{"p":"R","s":"MA","r":7,"t":273,"v":5900},{"p":"R","s":"MA","r":7,"t":369,"v":4610},{"p":"R","s":"MA","r":7,"t":488,"v":3170},{"p":"R","s":"MA","r":7,"t":645,"v":1880},{"p":"R","s":"MA","r":7,"t":840,"v":670},
{"p":"R","s":"MA","r":8,"t":0.01,"v":15300},{"p":"R","s":"MA","r":8,"t":0.7,"v":15300},{"p":"R","s":"MA","r":8,"t":1.12,"v":15280},{"p":"R","s":"MA","r":8,"t":1.84,"v":15200},{"p":"R","s":"MA","r":8,"t":2.83,"v":14880},{"p":"R","s":"MA","r":8,"t":4.34,"v":14300},{"p":"R","s":"MA","r":8,"t":6.67,"v":13600},{"p":"R","s":"MA","r":8,"t":10.2,"v":12820},{"p":"R","s":"MA","r":8,"t":15.7,"v":12170},{"p":"R","s":"MA","r":8,"t":22.7,"v":11720},{"p":"R","s":"MA","r":8,"t":31.9,"v":11380},{"p":"R","s":"MA","r":8,"t":46,"v":10990},{"p":"R","s":"MA","r":8,"t":60,"v":10550},{"p":"R","s":"MA","r":8,"t":82,"v":9900},{"p":"R","s":"MA","r":8,"t":116,"v":9000},{"p":"R","s":"MA","r":8,"t":156,"v":8140},{"p":"R","s":"MA","r":8,"t":207,"v":7090},{"p":"R","s":"MA","r":8,"t":273,"v":5800},{"p":"R","s":"MA","r":8,"t":369,"v":4510},{"p":"R","s":"MA","r":8,"t":488,"v":3070},{"p":"R","s":"MA","r":8,"t":645,"v":1780},{"p":"R","s":"MA","r":8,"t":840,"v":570},
{"p":"R","s":"MLVMA","r":1,"t":0.01,"v":9645},{"p":"R","s":"MLVMA","r":1,"t":1.67,"v":7800},{"p":"R","s":"MLVMA","r":1,"t":1.9,"v":6100},{"p":"R","s":"MLVMA","r":1,"t":2.3,"v":4600},{"p":"R","s":"MLVMA","r":1,"t":2.8,"v":3300},{"p":"R","s":"MLVMA","r":1,"t":3.4,"v":2300},{"p":"R","s":"MLVMA","r":1,"t":4.2,"v":1400},{"p":"R","s":"MLVMA","r":1,"t":5.2,"v":700},{"p":"R","s":"MLVMA","r":1,"t":6.5,"v":300},{"p":"R","s":"MLVMA","r":1,"t":8,"v":120},{"p":"R","s":"MLVMA","r":1,"t":10,"v":60},{"p":"R","s":"MLVMA","r":1,"t":15,"v":40},{"p":"R","s":"MLVMA","r":1,"t":840,"v":30},
{"p":"R","s":"MLVMA","r":2,"t":0.01,"v":8450},{"p":"R","s":"MLVMA","r":2,"t":0.76,"v":7300},{"p":"R","s":"MLVMA","r":2,"t":1.0,"v":6500},{"p":"R","s":"MLVMA","r":2,"t":1.3,"v":5600},{"p":"R","s":"MLVMA","r":2,"t":1.7,"v":4600},{"p":"R","s":"MLVMA","r":2,"t":2.2,"v":3600},{"p":"R","s":"MLVMA","r":2,"t":2.8,"v":2700},{"p":"R","s":"MLVMA","r":2,"t":3.5,"v":1800},{"p":"R","s":"MLVMA","r":2,"t":4.4,"v":1000},{"p":"R","s":"MLVMA","r":2,"t":5.5,"v":450},{"p":"R","s":"MLVMA","r":2,"t":7,"v":180},{"p":"R","s":"MLVMA","r":2,"t":9,"v":80},{"p":"R","s":"MLVMA","r":2,"t":12,"v":40},{"p":"R","s":"MLVMA","r":2,"t":840,"v":40},
{"p":"R","s":"MLVMA","r":3,"t":0.01,"v":8300},{"p":"R","s":"MLVMA","r":3,"t":1.17,"v":7100},{"p":"R","s":"MLVMA","r":3,"t":1.4,"v":6000},{"p":"R","s":"MLVMA","r":3,"t":1.8,"v":4900},{"p":"R","s":"MLVMA","r":3,"t":2.3,"v":3800},{"p":"R","s":"MLVMA","r":3,"t":2.9,"v":2800},{"p":"R","s":"MLVMA","r":3,"t":3.7,"v":1900},{"p":"R","s":"MLVMA","r":3,"t":4.7,"v":1000},{"p":"R","s":"MLVMA","r":3,"t":6,"v":450},{"p":"R","s":"MLVMA","r":3,"t":9,"v":300},{"p":"R","s":"MLVMA","r":3,"t":13,"v":150},{"p":"R","s":"MLVMA","r":3,"t":16,"v":50},{"p":"R","s":"MLVMA","r":3,"t":840,"v":40},
{"p":"R","s":"MLVMA","r":4,"t":0.01,"v":8200},{"p":"R","s":"MLVMA","r":4,"t":0.9,"v":6900},{"p":"R","s":"MLVMA","r":4,"t":1.2,"v":5900},{"p":"R","s":"MLVMA","r":4,"t":1.6,"v":4800},{"p":"R","s":"MLVMA","r":4,"t":2.1,"v":3700},{"p":"R","s":"MLVMA","r":4,"t":2.7,"v":2600},{"p":"R","s":"MLVMA","r":4,"t":3.4,"v":1700},{"p":"R","s":"MLVMA","r":4,"t":4.3,"v":900},{"p":"R","s":"MLVMA","r":4,"t":5.4,"v":400},{"p":"R","s":"MLVMA","r":4,"t":6.8,"v":150},{"p":"R","s":"MLVMA","r":4,"t":8.5,"v":60},{"p":"R","s":"MLVMA","r":4,"t":12,"v":35},{"p":"R","s":"MLVMA","r":4,"t":840,"v":35},
{"p":"R","s":"MLVMA","r":5,"t":0.01,"v":7200},{"p":"R","s":"MLVMA","r":5,"t":1.3,"v":6300},{"p":"R","s":"MLVMA","r":5,"t":1.6,"v":5300},{"p":"R","s":"MLVMA","r":5,"t":2.0,"v":4400},{"p":"R","s":"MLVMA","r":5,"t":2.5,"v":3400},{"p":"R","s":"MLVMA","r":5,"t":3.2,"v":2500},{"p":"R","s":"MLVMA","r":5,"t":4,"v":1600},{"p":"R","s":"MLVMA","r":5,"t":5,"v":850},{"p":"R","s":"MLVMA","r":5,"t":6.3,"v":350},{"p":"R","s":"MLVMA","r":5,"t":8,"v":130},{"p":"R","s":"MLVMA","r":5,"t":10,"v":60},{"p":"R","s":"MLVMA","r":5,"t":14,"v":40},{"p":"R","s":"MLVMA","r":5,"t":840,"v":40},
{"p":"R","s":"MLVMA","r":6,"t":0.01,"v":7000},{"p":"R","s":"MLVMA","r":6,"t":0.7,"v":6400},{"p":"R","s":"MLVMA","r":6,"t":0.95,"v":5600},{"p":"R","s":"MLVMA","r":6,"t":1.3,"v":4700},{"p":"R","s":"MLVMA","r":6,"t":1.7,"v":3800},{"p":"R","s":"MLVMA","r":6,"t":2.2,"v":2900},{"p":"R","s":"MLVMA","r":6,"t":2.8,"v":2000},{"p":"R","s":"MLVMA","r":6,"t":3.6,"v":1200},{"p":"R","s":"MLVMA","r":6,"t":4.6,"v":600},{"p":"R","s":"MLVMA","r":6,"t":5.8,"v":250},{"p":"R","s":"MLVMA","r":6,"t":7.4,"v":100},{"p":"R","s":"MLVMA","r":6,"t":9.5,"v":35},{"p":"R","s":"MLVMA","r":6,"t":840,"v":35},
{"p":"R","s":"MLVMA","r":7,"t":0.01,"v":6900},{"p":"R","s":"MLVMA","r":7,"t":1.5,"v":6000},{"p":"R","s":"MLVMA","r":7,"t":1.8,"v":5100},{"p":"R","s":"MLVMA","r":7,"t":2.2,"v":4200},{"p":"R","s":"MLVMA","r":7,"t":2.7,"v":3300},{"p":"R","s":"MLVMA","r":7,"t":3.3,"v":2400},{"p":"R","s":"MLVMA","r":7,"t":4.1,"v":1500},{"p":"R","s":"MLVMA","r":7,"t":5.2,"v":750},{"p":"R","s":"MLVMA","r":7,"t":6.6,"v":300},{"p":"R","s":"MLVMA","r":7,"t":8.4,"v":110},{"p":"R","s":"MLVMA","r":7,"t":11,"v":55},{"p":"R","s":"MLVMA","r":7,"t":15,"v":40},{"p":"R","s":"MLVMA","r":7,"t":840,"v":40},
{"p":"R","s":"MLVMA","r":8,"t":0.01,"v":5850},{"p":"R","s":"MLVMA","r":8,"t":0.6,"v":5500},{"p":"R","s":"MLVMA","r":8,"t":0.85,"v":5000},{"p":"R","s":"MLVMA","r":8,"t":1.2,"v":4300},{"p":"R","s":"MLVMA","r":8,"t":1.6,"v":3500},{"p":"R","s":"MLVMA","r":8,"t":2.1,"v":2700},{"p":"R","s":"MLVMA","r":8,"t":2.7,"v":1900},{"p":"R","s":"MLVMA","r":8,"t":3.5,"v":1100},{"p":"R","s":"MLVMA","r":8,"t":4.5,"v":550},{"p":"R","s":"MLVMA","r":8,"t":5.7,"v":220},{"p":"R","s":"MLVMA","r":8,"t":7.2,"v":90},{"p":"R","s":"MLVMA","r":8,"t":9.5,"v":35},{"p":"R","s":"MLVMA","r":8,"t":840,"v":35},
{"p":"R","s":"MLVMA","r":9,"t":0.01,"v":5700},{"p":"R","s":"MLVMA","r":9,"t":1.1,"v":5200},{"p":"R","s":"MLVMA","r":9,"t":1.4,"v":4500},{"p":"R","s":"MLVMA","r":9,"t":1.8,"v":3700},{"p":"R","s":"MLVMA","r":9,"t":2.3,"v":2900},{"p":"R","s":"MLVMA","r":9,"t":2.9,"v":2100},{"p":"R","s":"MLVMA","r":9,"t":3.7,"v":1300},{"p":"R","s":"MLVMA","r":9,"t":4.8,"v":650},{"p":"R","s":"MLVMA","r":9,"t":6.2,"v":260},{"p":"R","s":"MLVMA","r":9,"t":8,"v":100},{"p":"R","s":"MLVMA","r":9,"t":10.5,"v":40},{"p":"R","s":"MLVMA","r":9,"t":840,"v":40},
{"p":"R","s":"MLVMA","r":10,"t":0.01,"v":5650},{"p":"R","s":"MLVMA","r":10,"t":0.8,"v":5300},{"p":"R","s":"MLVMA","r":10,"t":1.1,"v":4800},{"p":"R","s":"MLVMA","r":10,"t":1.5,"v":4000},{"p":"R","s":"MLVMA","r":10,"t":2,"v":3200},{"p":"R","s":"MLVMA","r":10,"t":2.6,"v":2400},{"p":"R","s":"MLVMA","r":10,"t":3.3,"v":1600},{"p":"R","s":"MLVMA","r":10,"t":4.2,"v":850},{"p":"R","s":"MLVMA","r":10,"t":5.4,"v":350},{"p":"R","s":"MLVMA","r":10,"t":7,"v":130},{"p":"R","s":"MLVMA","r":10,"t":9,"v":60},{"p":"R","s":"MLVMA","r":10,"t":12,"v":35},{"p":"R","s":"MLVMA","r":10,"t":840,"v":35},
{"p":"R","s":"MLVMA","r":11,"t":0.01,"v":4680},{"p":"R","s":"MLVMA","r":11,"t":1.4,"v":4200},{"p":"R","s":"MLVMA","r":11,"t":1.8,"v":3500},{"p":"R","s":"MLVMA","r":11,"t":2.3,"v":2700},{"p":"R","s":"MLVMA","r":11,"t":3,"v":1900},{"p":"R","s":"MLVMA","r":11,"t":3.8,"v":1200},{"p":"R","s":"MLVMA","r":11,"t":4.8,"v":600},{"p":"R","s":"MLVMA","r":11,"t":6.1,"v":250},{"p":"R","s":"MLVMA","r":11,"t":7.8,"v":90},{"p":"R","s":"MLVMA","r":11,"t":10,"v":40},{"p":"R","s":"MLVMA","r":11,"t":840,"v":40},
{"p":"R","s":"MLVMA","r":12,"t":0.01,"v":3780},{"p":"R","s":"MLVMA","r":12,"t":1.6,"v":3400},{"p":"R","s":"MLVMA","r":12,"t":2,"v":2900},{"p":"R","s":"MLVMA","r":12,"t":2.6,"v":2300},{"p":"R","s":"MLVMA","r":12,"t":3.3,"v":1600},{"p":"R","s":"MLVMA","r":12,"t":4.2,"v":1000},{"p":"R","s":"MLVMA","r":12,"t":5.3,"v":500},{"p":"R","s":"MLVMA","r":12,"t":6.7,"v":200},{"p":"R","s":"MLVMA","r":12,"t":8.5,"v":80},{"p":"R","s":"MLVMA","r":12,"t":11,"v":40},{"p":"R","s":"MLVMA","r":12,"t":840,"v":40},
{"p":"R","s":"MLVMA","r":13,"t":0.01,"v":3650},{"p":"R","s":"MLVMA","r":13,"t":0.9,"v":3400},{"p":"R","s":"MLVMA","r":13,"t":1.3,"v":3000},{"p":"R","s":"MLVMA","r":13,"t":1.8,"v":2500},{"p":"R","s":"MLVMA","r":13,"t":2.4,"v":1900},{"p":"R","s":"MLVMA","r":13,"t":3.1,"v":1300},{"p":"R","s":"MLVMA","r":13,"t":4,"v":750},{"p":"R","s":"MLVMA","r":13,"t":5.1,"v":350},{"p":"R","s":"MLVMA","r":13,"t":6.5,"v":140},{"p":"R","s":"MLVMA","r":13,"t":8.3,"v":60},{"p":"R","s":"MLVMA","r":13,"t":11,"v":35},{"p":"R","s":"MLVMA","r":13,"t":840,"v":35},
{"p":"R","s":"MLVMA","r":14,"t":0.01,"v":2850},{"p":"R","s":"MLVMA","r":14,"t":1.2,"v":2600},{"p":"R","s":"MLVMA","r":14,"t":1.7,"v":2200},{"p":"R","s":"MLVMA","r":14,"t":2.4,"v":1700},{"p":"R","s":"MLVMA","r":14,"t":3.2,"v":1100},{"p":"R","s":"MLVMA","r":14,"t":4.2,"v":600},{"p":"R","s":"MLVMA","r":14,"t":5.4,"v":250},{"p":"R","s":"MLVMA","r":14,"t":7,"v":100},{"p":"R","s":"MLVMA","r":14,"t":9,"v":40},{"p":"R","s":"MLVMA","r":14,"t":840,"v":40},
{"p":"R","s":"MLVMA","r":15,"t":0.01,"v":2220},{"p":"R","s":"MLVMA","r":15,"t":1.9,"v":1900},{"p":"R","s":"MLVMA","r":15,"t":2.5,"v":1500},{"p":"R","s":"MLVMA","r":15,"t":3.3,"v":1000},{"p":"R","s":"MLVMA","r":15,"t":4.3,"v":550},{"p":"R","s":"MLVMA","r":15,"t":5.6,"v":220},{"p":"R","s":"MLVMA","r":15,"t":7.2,"v":90},{"p":"R","s":"MLVMA","r":15,"t":9.2,"v":40},{"p":"R","s":"MLVMA","r":15,"t":840,"v":40},
{"p":"R","s":"MLVMA","r":16,"t":0.01,"v":8350},{"p":"R","s":"MLVMA","r":16,"t":1.05,"v":7200},{"p":"R","s":"MLVMA","r":16,"t":1.35,"v":6200},{"p":"R","s":"MLVMA","r":16,"t":1.75,"v":5100},{"p":"R","s":"MLVMA","r":16,"t":2.2,"v":4000},{"p":"R","s":"MLVMA","r":16,"t":2.8,"v":3000},{"p":"R","s":"MLVMA","r":16,"t":3.5,"v":2100},{"p":"R","s":"MLVMA","r":16,"t":4.4,"v":1300},{"p":"R","s":"MLVMA","r":16,"t":5.5,"v":650},{"p":"R","s":"MLVMA","r":16,"t":7,"v":250},{"p":"R","s":"MLVMA","r":16,"t":9,"v":90},{"p":"R","s":"MLVMA","r":16,"t":12,"v":40},{"p":"R","s":"MLVMA","r":16,"t":840,"v":40},
{"p":"R","s":"MLVMA","r":17,"t":0.01,"v":7050},{"p":"R","s":"MLVMA","r":17,"t":1.0,"v":6200},{"p":"R","s":"MLVMA","r":17,"t":1.3,"v":5300},{"p":"R","s":"MLVMA","r":17,"t":1.7,"v":4400},{"p":"R","s":"MLVMA","r":17,"t":2.2,"v":3500},{"p":"R","s":"MLVMA","r":17,"t":2.8,"v":2600},{"p":"R","s":"MLVMA","r":17,"t":3.5,"v":1700},{"p":"R","s":"MLVMA","r":17,"t":4.5,"v":950},{"p":"R","s":"MLVMA","r":17,"t":5.7,"v":420},{"p":"R","s":"MLVMA","r":17,"t":7.2,"v":160},{"p":"R","s":"MLVMA","r":17,"t":9.5,"v":60},{"p":"R","s":"MLVMA","r":17,"t":840,"v":40},
{"p":"R","s":"MLVMA","r":18,"t":0.01,"v":5800},{"p":"R","s":"MLVMA","r":18,"t":1.3,"v":5300},{"p":"R","s":"MLVMA","r":18,"t":1.7,"v":4600},{"p":"R","s":"MLVMA","r":18,"t":2.2,"v":3800},{"p":"R","s":"MLVMA","r":18,"t":2.8,"v":2900},{"p":"R","s":"MLVMA","r":18,"t":3.5,"v":2000},{"p":"R","s":"MLVMA","r":18,"t":4.4,"v":1200},{"p":"R","s":"MLVMA","r":18,"t":5.6,"v":600},{"p":"R","s":"MLVMA","r":18,"t":7.1,"v":240},{"p":"R","s":"MLVMA","r":18,"t":9,"v":90},{"p":"R","s":"MLVMA","r":18,"t":12,"v":40},{"p":"R","s":"MLVMA","r":18,"t":840,"v":40},
{"p":"R","s":"MLVMA","r":19,"t":0.01,"v":3720},{"p":"R","s":"MLVMA","r":19,"t":1.2,"v":3500},{"p":"R","s":"MLVMA","r":19,"t":1.6,"v":3100},{"p":"R","s":"MLVMA","r":19,"t":2.1,"v":2600},{"p":"R","s":"MLVMA","r":19,"t":2.8,"v":2000},{"p":"R","s":"MLVMA","r":19,"t":3.6,"v":1400},{"p":"R","s":"MLVMA","r":19,"t":4.6,"v":800},{"p":"R","s":"MLVMA","r":19,"t":5.9,"v":380},{"p":"R","s":"MLVMA","r":19,"t":7.5,"v":150},{"p":"R","s":"MLVMA","r":19,"t":9.6,"v":60},{"p":"R","s":"MLVMA","r":19,"t":840,"v":35}
]},
"spacing": 43,
"resolve": {
  "scale": {"x": "independent", "y": "independent", "color": "independent", "strokeDash": "independent", "strokeWidth": "independent"},
  "legend": {"color": "independent", "strokeDash": "independent", "strokeWidth": "independent"},
  "axis": {"x": "independent", "y": "independent"}
},
"hconcat": [
{
  "width": 534, "height": 421,
  "transform": [{"filter": "datum.p == 'L'"}],
  "encoding": {
    "color": {"field": "s", "type": "nominal", "scale": {"domain": ["MA", "MLVMA", "Mean MA", "Mean MLVMA"], "range": ["#a8a8a8", "#a9bcc7", "black", "black"]}, "legend": {"title": null}},
    "strokeDash": {"field": "s", "type": "nominal", "scale": {"domain": ["MA", "MLVMA", "Mean MA", "Mean MLVMA"], "range": [[1, 1.5], [1, 0], [8, 5], [1, 0]]}, "legend": {"title": null}},
    "strokeWidth": {"field": "s", "type": "nominal", "scale": {"type": "ordinal", "domain": ["MA", "MLVMA", "Mean MA", "Mean MLVMA"], "range": [1, 1, 2.5, 2.5]}, "legend": {"title": null}},
    "detail": {"field": "r", "type": "nominal"}
  },
  "layer": [
    {
      "transform": [{"filter": "datum.s == 'MA'"}],
      "mark": {"type": "line", "clip": true},
      "encoding": {
        "x": {"field": "t", "type": "quantitative", "scale": {"type": "log", "domain": [0.01, 900], "nice": false},
              "axis": {"orient": "bottom", "title": "time [sek]", "titlePadding": 2, "labelPadding": 12, "labelFlush": false, "labelOverlap": false,
                       "values": [0.01,0.02,0.03,0.04,0.05,0.06,0.07,0.08,0.09,0.1,0.2,0.3,0.4,0.5,0.6,0.7,0.8,0.9,1,2,3,4,5,6,7,8,9,10,20,30,40,50,60,70,80,90,100,200,300,400,500,600,700,800],
                       "labelExpr": "datum.value == 0.01 ? '10⁻²' : datum.value == 0.1 ? '10⁻¹' : datum.value == 1 ? '10⁰' : datum.value == 10 ? '10¹' : datum.value == 100 ? '10²' : ''"}},
        "y": {"field": "v", "type": "quantitative", "scale": {"domain": [0, 13460], "nice": false, "zero": false},
              "axis": {"orient": "left", "title": "unresolved cases", "titlePadding": 4, "labelPadding": 7, "format": "d", "values": [0, 2000, 4000, 6000, 8000, 10000, 12000]}}
      }
    },
    {
      "transform": [{"filter": "datum.s == 'MLVMA'"}],
      "mark": {"type": "line", "interpolate": "step-after", "clip": true},
      "encoding": {
        "x": {"field": "t", "type": "quantitative", "scale": {"type": "log", "domain": [0.01, 900], "nice": false},
              "axis": {"orient": "top", "title": null, "labels": false,
                       "values": [0.01,0.02,0.03,0.04,0.05,0.06,0.07,0.08,0.09,0.1,0.2,0.3,0.4,0.5,0.6,0.7,0.8,0.9,1,2,3,4,5,6,7,8,9,10,20,30,40,50,60,70,80,90,100,200,300,400,500,600,700,800]}},
        "y": {"field": "v", "type": "quantitative", "scale": {"domain": [0, 13460], "nice": false, "zero": false},
              "axis": {"orient": "right", "title": null, "labels": false, "values": [0, 2000, 4000, 6000, 8000, 10000, 12000]}}
      }
    },
    {
      "transform": [{"filter": "datum.s == 'Mean MA' || datum.s == 'Mean MLVMA'"}],
      "mark": {"type": "line", "clip": true},
      "encoding": {
        "x": {"field": "t", "type": "quantitative", "scale": {"type": "log", "domain": [0.01, 900], "nice": false}, "axis": null},
        "y": {"field": "v", "type": "quantitative", "scale": {"domain": [0, 13460], "nice": false, "zero": false}, "axis": null}
      }
    }
  ]
},
{
  "width": 529, "height": 421,
  "transform": [{"filter": "datum.p == 'R'"}],
  "encoding": {
    "color": {"field": "s", "type": "nominal", "scale": {"domain": ["MA", "MLVMA", "Mean MA", "Mean MLVMA"], "range": ["#a8a8a8", "#a9bcc7", "black", "black"]}, "legend": {"title": null}},
    "strokeDash": {"field": "s", "type": "nominal", "scale": {"domain": ["MA", "MLVMA", "Mean MA", "Mean MLVMA"], "range": [[1, 1.5], [1, 0], [8, 5], [1, 0]]}, "legend": {"title": null}},
    "strokeWidth": {"field": "s", "type": "nominal", "scale": {"type": "ordinal", "domain": ["MA", "MLVMA", "Mean MA", "Mean MLVMA"], "range": [1, 1, 2.5, 2.5]}, "legend": {"title": null}},
    "detail": {"field": "r", "type": "nominal"}
  },
  "layer": [
    {
      "transform": [{"filter": "datum.s == 'MA'"}],
      "mark": {"type": "line", "clip": true},
      "encoding": {
        "x": {"field": "t", "type": "quantitative", "scale": {"type": "log", "domain": [0.01, 840], "nice": false},
              "axis": {"orient": "bottom", "title": "time [sek]", "titlePadding": 2, "labelPadding": 12, "labelFlush": false, "labelOverlap": false,
                       "values": [0.01,0.02,0.03,0.04,0.05,0.06,0.07,0.08,0.09,0.1,0.2,0.3,0.4,0.5,0.6,0.7,0.8,0.9,1,2,3,4,5,6,7,8,9,10,20,30,40,50,60,70,80,90,100,200,300,400,500,600,700,800],
                       "labelExpr": "datum.value == 0.01 ? '10⁻²' : datum.value == 0.1 ? '10⁻¹' : datum.value == 1 ? '10⁰' : datum.value == 10 ? '10¹' : datum.value == 100 ? '10²' : ''"}},
        "y": {"field": "v", "type": "quantitative", "scale": {"domain": [0, 16400], "nice": false, "zero": false},
              "axis": {"orient": "left", "title": "unresolved cases", "titlePadding": 4, "labelPadding": 7, "format": "d", "values": [0, 2000, 4000, 6000, 8000, 10000, 12000, 14000, 16000]}}
      }
    },
    {
      "transform": [{"filter": "datum.s == 'MLVMA'"}],
      "mark": {"type": "line", "interpolate": "step-after", "clip": true},
      "encoding": {
        "x": {"field": "t", "type": "quantitative", "scale": {"type": "log", "domain": [0.01, 840], "nice": false},
              "axis": {"orient": "top", "title": null, "labels": false,
                       "values": [0.01,0.02,0.03,0.04,0.05,0.06,0.07,0.08,0.09,0.1,0.2,0.3,0.4,0.5,0.6,0.7,0.8,0.9,1,2,3,4,5,6,7,8,9,10,20,30,40,50,60,70,80,90,100,200,300,400,500,600,700,800]}},
        "y": {"field": "v", "type": "quantitative", "scale": {"domain": [0, 16400], "nice": false, "zero": false},
              "axis": {"orient": "right", "title": null, "labels": false, "values": [0, 2000, 4000, 6000, 8000, 10000, 12000, 14000, 16000]}}
      }
    },
    {
      "transform": [{"filter": "datum.s == 'Mean MA' || datum.s == 'Mean MLVMA'"}],
      "mark": {"type": "line", "clip": true},
      "encoding": {
        "x": {"field": "t", "type": "quantitative", "scale": {"type": "log", "domain": [0.01, 840], "nice": false}, "axis": null},
        "y": {"field": "v", "type": "quantitative", "scale": {"domain": [0, 16400], "nice": false, "zero": false}, "axis": null}
      }
    }
  ]
}
]
}
